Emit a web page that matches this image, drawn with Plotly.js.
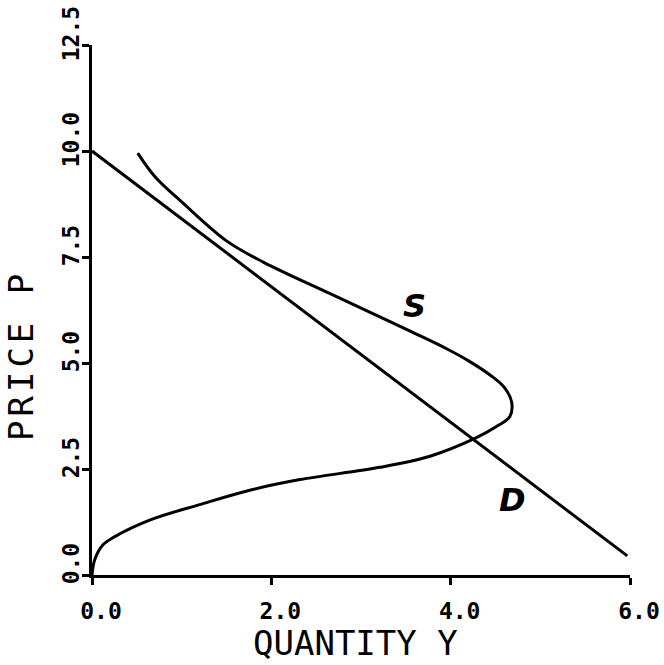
<!DOCTYPE html>
<html>
<head>
<meta charset="utf-8">
<script src="https://cdn.plot.ly/plotly-3.0.1.min.js"></script>
<style>
html,body{margin:0;padding:0;background:#fff;}
#chart{width:664px;height:665px;}
g.annotation[data-index="3"] text{letter-spacing:4px;}
</style>
</head>
<body>
<div id="chart"></div>
<script>
// Demand curve D
const demandQ = [0, 5.97];
const demandP = [10, 0.45];
// Supply curve S (backward bending)
const supplyQ = [0, 0.03, 0.12, 0.25, 0.65, 1.2, 1.76, 2.32, 3.21, 3.77, 4.27, 4.51, 4.66, 4.68, 4.6, 4.45, 4.2, 3.96, 3.6, 3.21, 2.65, 1.91, 1.5, 1.0, 0.7, 0.51];
const supplyP = [0, 0.36, 0.71, 0.9, 1.3, 1.66, 2.0, 2.25, 2.54, 2.8, 3.22, 3.5, 3.74, 4.08, 4.42, 4.7, 5.05, 5.33, 5.7, 6.09, 6.64, 7.38, 7.88, 8.8, 9.4, 9.95];
const xTicks = [0, 2, 4, 6];
const xTickText = ['0.0', '2.0', '4.0', '6.0'];
const yTicks = [0, 2.5, 5, 7.5, 10, 12.5];
const yTickText = ['0.0', '2.5', '5.0', '7.5', '10.0', '12.5'];
const curveLabels = ['S', 'D'];
const curveLabelQ = [3.6, 4.69];
const curveLabelP = [6.35, 1.78];
const xTitle = 'QUANTITY Y';
const yTitle = 'PRICE P';

const font = 'DejaVu Sans Mono, monospace';
const traces = [
  {x: demandQ, y: demandP, mode: 'lines', line: {color: '#000', width: 3}, hoverinfo: 'skip'},
  {x: supplyQ, y: supplyP, mode: 'lines', line: {color: '#000', width: 3, shape: 'spline', smoothing: 1.0}, hoverinfo: 'skip'}
];
const annotations = curveLabels.map((t, i) => ({
  x: curveLabelQ[i], y: curveLabelP[i], xref: 'x', yref: 'y', text: '<b><i>' + t + '</i></b>',
  showarrow: false, font: {family: 'DejaVu Sans, sans-serif', size: 32, color: '#000'}
}));
annotations.push({x: 0.489, y: -0.128, xref: 'paper', yref: 'paper', text: xTitle, showarrow: false,
  font: {family: font, size: 34, color: '#000'}, xanchor: 'center', yanchor: 'middle'});
annotations.push({x: -0.132, y: 0.415, xref: 'paper', yref: 'paper', text: yTitle, showarrow: false, textangle: -90,
  font: {family: font, size: 34, color: '#000'}, xanchor: 'center', yanchor: 'middle'});

const layout = {
  width: 664, height: 665,
  margin: {l: 92, r: 34, t: 45, b: 90},
  paper_bgcolor: '#fff', plot_bgcolor: '#fff',
  showlegend: false,
  xaxis: {range: [0, 6], tickvals: xTicks, ticktext: xTickText, showgrid: false, zeroline: false,
    showline: true, linecolor: '#000', linewidth: 3, ticks: 'outside', ticklen: 7, tickwidth: 3, tickcolor: '#000',
    tickfont: {family: font, size: 23, color: '#000', weight: 'bold'}, ticklabelstandoff: 6, ticklabelshift: 9},
  yaxis: {range: [0, 12.5], tickvals: yTicks, ticktext: yTickText, showgrid: false, zeroline: false,
    showline: true, linecolor: '#000', linewidth: 3, ticks: 'outside', ticklen: 7, tickwidth: 3, tickcolor: '#000',
    tickangle: -90, tickfont: {family: font, size: 23, color: '#000', weight: 'bold'}, ticklabelstandoff: -6, ticklabelshift: -8},
  annotations: annotations
};
Plotly.newPlot('chart', traces, layout, {staticPlot: true});
</script>
</body>
</html>
